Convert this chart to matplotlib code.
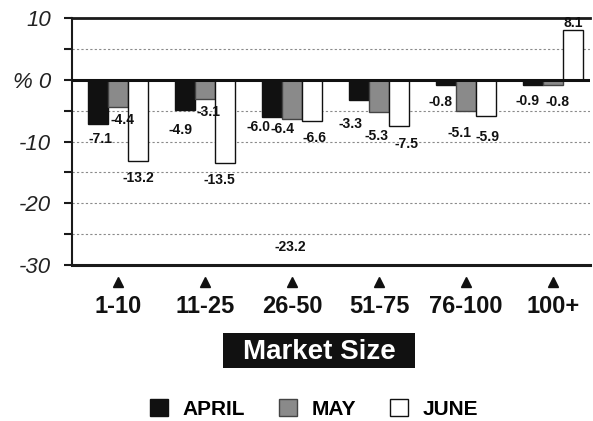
import matplotlib
matplotlib.use("Agg")
import matplotlib.pyplot as plt
from matplotlib.patches import Patch, Rectangle

plt.rcParams['font.family'] = ['Liberation Sans', 'DejaVu Sans']

# ---- data ----
categories = ['1-10', '11-25', '26-50', '51-75', '76-100', '100+']
april = [-7.1, -4.9, -6.0, -3.3, -0.8, -0.9]
may = [-4.4, -3.1, -6.4, -5.3, -5.1, -0.8]
june = [-13.2, -13.5, -6.6, -7.5, -5.9, 8.1]
stray_label_value = -23.2          # printed under the 26-50 group
stray_label_group = 2
y_ticks = [10, 0, -10, -20, -30]
y_tick_labels = ['10', '% 0', '-10', '-20', '-30']
series_names = ['APRIL', 'MAY', 'JUNE']

# ---- layout (label offsets in pixels: dx, dy downward) ----
label_dx = [[2, 4, 0], [-5, 3, -6], [-14, -10, 2], [-9, -3, 7], [-6, -7, 1], [-6, 4, 0]]
label_dy = [[15, 13, 17], [20, 13, 17], [10, 10, 17], [24, 24, 18], [17, 22, 21], [16, 17, -7]]

W, H = 593, 421
fig = plt.figure(figsize=(W / 100, H / 100), dpi=100)
ax = fig.add_axes([72 / W, 1 - 265 / H, 518 / W, 247 / H])

colors = ['#111111', '#8a8a8a', 'white']
edges = ['#111111', '#444444', '#111111']
width = 0.23
series = [april, may, june]
x = list(range(len(categories)))

for s_idx, vals in enumerate(series):
    xs = [xi + (s_idx - 1) * width for xi in x]
    ax.bar(xs, vals, width=width, color=colors[s_idx], edgecolor=edges[s_idx],
           linewidth=1.0, zorder=3)
    for g, (xx, v) in enumerate(zip(xs, vals)):
        ax.annotate(f"{v:.1f}", xy=(xx, v), xytext=(label_dx[g][s_idx], -label_dy[g][s_idx]),
                    textcoords='offset pixels', ha='center', va='center',
                    fontsize=10, fontweight='bold', color='#111111', zorder=5)

ax.annotate(f"{stray_label_value:.1f}", xy=(stray_label_group, stray_label_value),
            xytext=(-2, -24), textcoords='offset pixels', ha='center', va='center',
            fontsize=10, fontweight='bold', color='#111111')

ax.set_xlim(-0.529, 5.425)
ax.set_ylim(-30, 10)

# grid
for gy in [5, -5, -10, -15, -20, -25]:
    ax.axhline(gy, color='#8a8a8a', linestyle=(0, (2, 2)), linewidth=0.8, zorder=1)
ax.axhline(0, color='#111111', linewidth=2.2, zorder=4)

# spines
ax.spines['right'].set_visible(False)
ax.spines['top'].set_linewidth(2.0)
ax.spines['bottom'].set_linewidth(2.2)
ax.spines['left'].set_linewidth(1.5)
for sp in ['top', 'bottom', 'left']:
    ax.spines[sp].set_color('#1a1a1a')

ax.set_yticks(y_ticks)
ax.set_yticklabels(y_tick_labels, fontsize=16, fontstyle='italic', color='#222222')
ax.set_yticks([5, -5, -15, -25], minor=True)
ax.tick_params(axis='y', which='both', direction='out', length=6, width=1.5,
               color='#1a1a1a', pad=9)
ax.set_xticks([])

# category markers and labels
tr = ax.get_xaxis_transform()
ax.plot(x, [-0.069] * len(x), linestyle='none', marker='^', markersize=7,
        color='#111111', transform=tr, clip_on=False)
for xi, lab in zip(x, categories):
    ax.text(xi, -0.166, lab, transform=tr, ha='center', va='center',
            fontsize=17, fontweight='bold', color='#111111')

# Market Size box
fig.patches.append(Rectangle((223 / W, 1 - 368 / H), 192 / W, 35 / H,
                             transform=fig.transFigure, facecolor='#111111',
                             edgecolor='none'))
fig.text(319 / W, 1 - 352 / H, 'Market Size', ha='center', va='center',
         color='white', fontsize=20, fontweight='bold')

# legend
handles = [Patch(facecolor=colors[i], edgecolor=edges[i], linewidth=1.0) for i in range(3)]
fig.legend(handles, series_names, loc='center', bbox_to_anchor=(314 / W, 1 - 409 / H),
           ncol=3, frameon=False, prop={'size': 15, 'weight': 'bold'},
           handlelength=0.87, handleheight=0.85, handletextpad=0.72,
           columnspacing=1.6, borderpad=0.2)

fig.savefig('out.png', dpi=100, facecolor='white')
